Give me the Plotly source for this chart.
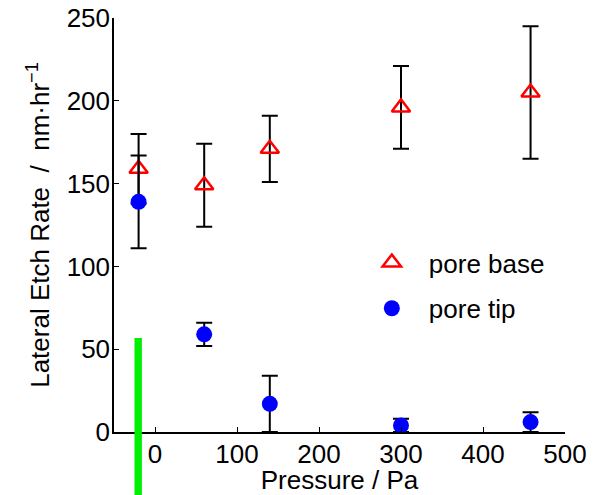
import plotly.graph_objects as go

# Data
pressure = [-20, 60, 140, 300, 458]
base_rate = [159, 149, 171, 196, 205]
base_err = [21, 25, 20, 25, 40]
tip_rate = [139, 59, 17, 4, 6]
tip_err = [28, 7, 17, 4, 6]

x_ticks = [0, 100, 200, 300, 400, 500]
y_ticks = [0, 50, 100, 150, 200, 250]

FONT = "Liberation Sans, Arial, Helvetica, sans-serif"

fig = go.Figure()
fig.add_trace(go.Scatter(
    x=pressure, y=base_rate, mode="markers", name="pore base",
    legendgroup="a",
    marker=dict(symbol="triangle-up-open", size=16, color="#ff0000",
                line=dict(width=2.5, color="#ff0000")),
    error_y=dict(type="data", array=base_err, color="black", thickness=2, width=8),
))
fig.add_trace(go.Scatter(
    x=pressure, y=tip_rate, mode="markers", name="pore tip",
    legendgroup="b",
    marker=dict(symbol="circle", size=16, color="#0000ff"),
    error_y=dict(type="data", array=tip_err, color="black", thickness=2, width=8),
))

# stray green bar from the original figure
fig.add_shape(type="rect", xref="x", yref="paper", x0=-25, x1=-16, y0=-0.16, y1=0.227,
              fillcolor="#00ee00", line=dict(width=0), layer="above")

fig.update_layout(
    width=594, height=495,
    margin=dict(l=114, r=29, t=18, b=63, autoexpand=False),
    paper_bgcolor="white", plot_bgcolor="white",
    font=dict(family=FONT, size=26, color="black"),
    showlegend=True,
    legend=dict(x=0.534, y=0.466, xanchor="left", yanchor="top",
                bgcolor="rgba(0,0,0,0)", tracegroupgap=9, itemwidth=64,
                font=dict(size=26)),
    xaxis=dict(range=[-50, 500], tickvals=x_ticks, ticks="inside", ticklen=5,
               tickwidth=1, tickcolor="black", showline=True, linecolor="black",
               linewidth=1.5, showgrid=False, zeroline=False, mirror=False,
               automargin=False, ticklabelstandoff=-2,
               title=dict(text="Pressure / Pa", font=dict(size=26), standoff=0)),
    yaxis=dict(range=[0, 250], tickvals=y_ticks, ticks="inside", ticklen=5,
               tickwidth=1, tickcolor="black", showline=True, linecolor="black",
               linewidth=1.5, showgrid=False, zeroline=False, mirror=False,
               automargin=False, ticklabelstandoff=-3,
               title=dict(text="Lateral Etch Rate\u00a0\u00a0/\u00a0\u00a0nm·hr<sup>−1</sup>",
                          font=dict(size=26), standoff=10)),
)

fig.write_html("out.html", config={"displayModeBar": False},
               post_script="document.body.style.margin='0';")
